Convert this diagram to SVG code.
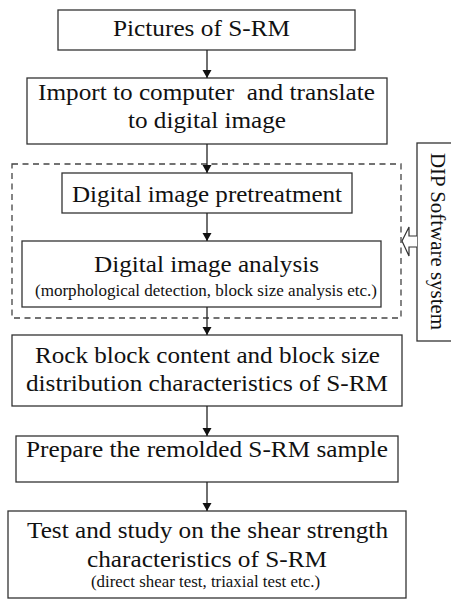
<svg xmlns="http://www.w3.org/2000/svg" width="451" height="599" viewBox="0 0 451 599">
<defs>
<style>
.box{fill:#fff;stroke:#333;stroke-width:1.3}
.t{font-family:"Liberation Serif","Times New Roman",serif;font-size:24px;fill:#111;text-anchor:middle}
.s{font-family:"Liberation Serif","Times New Roman",serif;font-size:16.5px;fill:#111;text-anchor:middle}
.c{stroke:#222;stroke-width:1.3;fill:none}
</style>
<marker id="ah" viewBox="0 0 8 12" refX="8" refY="6" markerWidth="8" markerHeight="12" markerUnits="userSpaceOnUse" orient="auto">
<path d="M0,1.5 L8,6 L0,10.5 Z" fill="#111"/>
</marker>
</defs>
<rect width="451" height="599" fill="#fff"/>
<g id="dip-group">
<rect x="12" y="164" width="389" height="154" fill="none" stroke="#444" stroke-width="1.3" stroke-dasharray="6,4.5"/>
</g>
<g id="n1">
<rect class="box" x="58" y="10" width="297" height="40"/>
<text class="t" x="201.5" y="36" textLength="177" lengthAdjust="spacingAndGlyphs">Pictures of S-RM</text>
</g>
<g id="n2">
<rect class="box" x="27" y="78" width="360" height="66"/>
<text class="t" x="206.5" y="100" textLength="337" lengthAdjust="spacingAndGlyphs" xml:space="preserve">Import to computer  and translate</text>
<text class="t" x="207" y="128" textLength="158" lengthAdjust="spacingAndGlyphs">to digital image</text>
</g>
<g id="n3">
<rect class="box" x="62" y="173" width="290" height="40"/>
<text class="t" x="207" y="202" textLength="270" lengthAdjust="spacingAndGlyphs">Digital image pretreatment</text>
</g>
<g id="n4">
<rect class="box" x="22" y="241" width="359" height="66"/>
<text class="t" x="206.5" y="272" textLength="225" lengthAdjust="spacingAndGlyphs">Digital image analysis</text>
<text class="s" x="206" y="296" textLength="342" lengthAdjust="spacingAndGlyphs">(morphological detection, block size analysis etc.)</text>
</g>
<g id="n5">
<rect class="box" x="12" y="335" width="390" height="71"/>
<text class="t" x="207.5" y="363" textLength="345" lengthAdjust="spacingAndGlyphs">Rock block content and block size</text>
<text class="t" x="207" y="391" textLength="362" lengthAdjust="spacingAndGlyphs">distribution characteristics of S-RM</text>
</g>
<g id="n6">
<rect class="box" x="16" y="436" width="382" height="46"/>
<text class="t" x="207" y="457" textLength="362" lengthAdjust="spacingAndGlyphs">Prepare the remolded S-RM sample</text>
</g>
<g id="n7">
<rect class="box" x="8" y="511" width="398" height="87"/>
<text class="t" x="207.5" y="538" textLength="361" lengthAdjust="spacingAndGlyphs">Test and study on the shear strength</text>
<text class="t" x="207" y="567" textLength="240" lengthAdjust="spacingAndGlyphs">characteristics of S-RM</text>
<text class="s" x="205.5" y="587" textLength="229" lengthAdjust="spacingAndGlyphs">(direct shear test, triaxial test etc.)</text>
</g>
<g id="dip-software">
<rect class="box" x="417" y="143" width="50" height="198"/>
<text transform="translate(431,241.5) rotate(90)" style="font-family:'Liberation Serif','Times New Roman',serif;font-size:21.5px;fill:#111;text-anchor:middle" textLength="177" lengthAdjust="spacingAndGlyphs">DIP Software system</text>
</g>
<g id="connectors">
<line class="c" x1="207" y1="50" x2="207" y2="78" marker-end="url(#ah)"/>
<line class="c" x1="207" y1="144" x2="207" y2="173" marker-end="url(#ah)"/>
<line class="c" x1="207" y1="213" x2="207" y2="241" marker-end="url(#ah)"/>
<line class="c" x1="207" y1="307" x2="207" y2="335" marker-end="url(#ah)"/>
<line class="c" x1="207" y1="406" x2="207" y2="436" marker-end="url(#ah)"/>
<line class="c" x1="207" y1="482" x2="207" y2="511" marker-end="url(#ah)"/>
<path d="M417,236 L409,236 L409,227 L402,241 L409,256 L409,247 L417,247" fill="#fff" stroke="#333" stroke-width="1.2" stroke-linejoin="miter"/>
</g>
</svg>
